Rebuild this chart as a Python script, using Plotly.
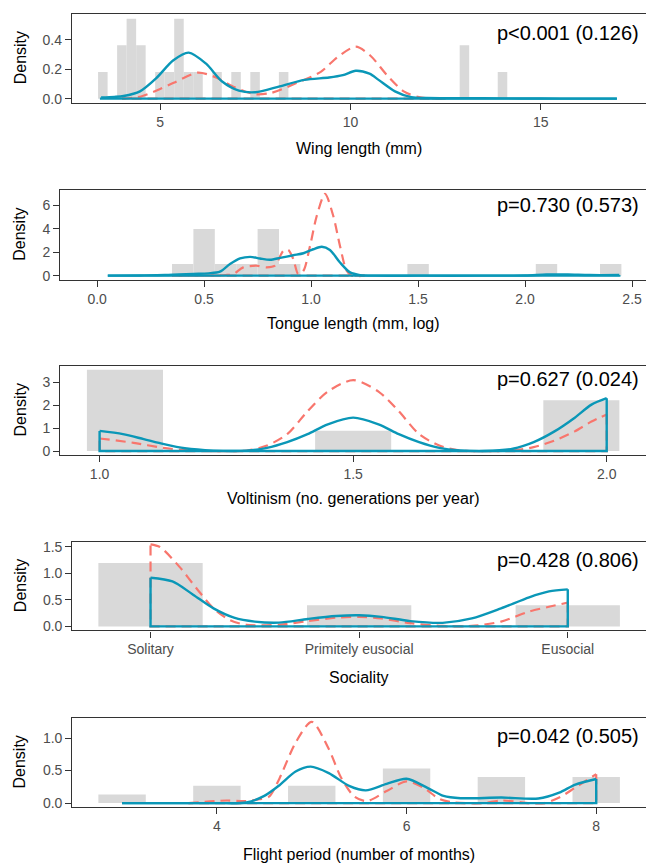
import plotly.graph_objects as go

W, H = 646, 868
BLUE = "#0A97B7"
RED = "#F8766D"
GRAY = "#D9D9D9"
FONT = "Liberation Sans, Arial, sans-serif"

# ---------------- data ----------------
# Panel 1: wing length
wing_hist_x = [3.495, 3.995, 4.245, 4.495, 4.995, 5.245, 5.495, 5.745, 5.995, 6.495, 6.995, 7.495, 8.245, 12.995, 13.995]
wing_hist_y = [0.182, 0.364, 0.545, 0.364, 0.182, 0.182, 0.545, 0.182, 0.182, 0.182, 0.182, 0.182, 0.182, 0.364, 0.182]
wing_hist_w = 0.25
wing_blue_x = [3.45, 3.8, 4.04, 4.47, 4.9, 5.34, 5.75, 6.2, 6.63, 7.07, 7.5, 8.14, 8.79, 9.44, 9.8, 10.14, 10.5, 10.74, 11.17, 11.6, 12.0, 13.0, 14.0, 15.0, 16.0, 17.0]
wing_blue_y = [0.008, 0.012, 0.018, 0.05, 0.14, 0.26, 0.314, 0.24, 0.117, 0.055, 0.044, 0.084, 0.128, 0.144, 0.16, 0.19, 0.17, 0.128, 0.05, 0.01, 0.004, 0.003, 0.002, 0.001, 0.0, 0.0]
wing_red_x = [4.0, 4.5, 5.0, 5.34, 5.98, 6.42, 6.96, 7.5, 7.93, 8.58, 9.22, 9.66, 10.14, 10.52, 10.96, 11.4, 11.8, 12.5]
wing_red_y = [0.0, 0.015, 0.066, 0.106, 0.177, 0.15, 0.077, 0.03, 0.04, 0.106, 0.183, 0.283, 0.354, 0.294, 0.16, 0.05, 0.01, 0.0]

# Panel 2: tongue length
tongue_hist_x = [0.4, 0.5, 0.6, 0.7, 0.8, 0.9, 1.5, 2.1, 2.4]
tongue_hist_y = [1, 4, 1, 1, 4, 1, 1, 1, 1]
tongue_hist_w = 0.1
tongue_blue_x = [0.05, 0.2, 0.317, 0.45, 0.52, 0.574, 0.621, 0.668, 0.715, 0.761, 0.808, 0.855, 0.917, 0.964, 1.01, 1.05, 1.088, 1.135, 1.182, 1.229, 1.3, 1.5, 1.8, 2.0, 2.1, 2.2, 2.3, 2.44]
tongue_blue_y = [0.0, 0.02, 0.05, 0.15, 0.2, 0.34, 0.99, 1.47, 1.61, 1.47, 1.36, 1.52, 1.75, 1.92, 2.26, 2.48, 2.2, 1.13, 0.28, 0.05, 0.0, 0.0, 0.0, 0.02, 0.1, 0.1, 0.05, 0.05]
tongue_red_x = [0.35, 0.55, 0.6, 0.637, 0.683, 0.746, 0.793, 0.831, 0.87, 0.893, 0.917, 0.94, 0.964, 0.995, 1.026, 1.065, 1.104, 1.135, 1.166, 1.19, 1.25]
tongue_red_y = [0.0, 0.01, 0.05, 0.14, 0.71, 0.85, 0.71, 0.85, 2.12, 2.2, 1.41, 0.14, 0.42, 2.54, 5.08, 7.0, 5.08, 2.54, 0.42, 0.0, 0.0]

# Panel 3: voltinism
volt_hist_x = [1.05, 1.5, 1.95]
volt_hist_y = [3.556, 0.889, 2.222]
volt_hist_w = 0.15
volt_blue_x = [1.0, 1.046, 1.087, 1.127, 1.168, 1.224, 1.29, 1.33, 1.37, 1.41, 1.45, 1.5, 1.55, 1.59, 1.63, 1.67, 1.71, 1.76, 1.815, 1.856, 1.897, 1.937, 1.97, 2.0]
volt_blue_y = [0.88, 0.74, 0.52, 0.3, 0.12, 0.02, 0.02, 0.14, 0.39, 0.74, 1.17, 1.46, 1.17, 0.74, 0.39, 0.14, 0.03, 0.0, 0.1, 0.39, 0.86, 1.46, 2.03, 2.31]
volt_red_x = [1.0, 1.067, 1.125, 1.17, 1.22, 1.29, 1.33, 1.37, 1.41, 1.45, 1.5, 1.55, 1.59, 1.63, 1.67, 1.71, 1.78, 1.815, 1.856, 1.897, 1.937, 1.97, 2.0]
volt_red_y = [0.55, 0.36, 0.14, 0.04, 0.0, 0.02, 0.24, 0.74, 1.74, 2.6, 3.1, 2.6, 1.74, 0.74, 0.24, 0.03, 0.0, 0.03, 0.17, 0.46, 0.86, 1.29, 1.6]

# Panel 4: sociality
soc_labels = ["Solitary", "Primitely eusocial", "Eusocial"]
soc_hist_x = [1, 2, 3]
soc_hist_y = [1.2, 0.4, 0.4]
soc_hist_w = 0.5
soc_blue_x = [1.0, 1.105, 1.204, 1.302, 1.4, 1.5, 1.616, 1.754, 1.89, 2.0, 2.107, 2.245, 2.4, 2.54, 2.68, 2.815, 2.91, 3.0]
soc_blue_y = [0.92, 0.85, 0.6, 0.34, 0.165, 0.09, 0.07, 0.14, 0.196, 0.21, 0.18, 0.1, 0.067, 0.15, 0.34, 0.55, 0.66, 0.70]
soc_red_x = [1.0, 1.045, 1.14, 1.22, 1.302, 1.38, 1.46, 1.616, 1.754, 1.89, 2.0, 2.107, 2.245, 2.4, 2.54, 2.68, 2.815, 2.91, 3.0]
soc_red_y = [1.55, 1.5, 1.12, 0.72, 0.34, 0.12, 0.03, 0.03, 0.1, 0.165, 0.18, 0.15, 0.06, 0.01, 0.01, 0.09, 0.28, 0.37, 0.45]

# Panel 5: flight period
flight_hist_x = [3, 4, 5, 6, 7, 8]
flight_hist_y = [0.133, 0.267, 0.267, 0.533, 0.4, 0.4]
flight_hist_w = 0.5
flight_blue_x = [3.0, 4.0, 4.31, 4.5, 4.66, 4.83, 4.99, 5.18, 5.4, 5.57, 5.79, 6.0, 6.22, 6.39, 6.57, 7.0, 7.39, 7.61, 7.78, 8.0]
flight_blue_y = [0.0, 0.0, 0.01, 0.11, 0.275, 0.485, 0.56, 0.46, 0.26, 0.195, 0.295, 0.375, 0.235, 0.11, 0.075, 0.085, 0.07, 0.16, 0.285, 0.37]
flight_red_x = [3.7, 4.1, 4.3, 4.45, 4.55, 4.66, 4.83, 5.0, 5.18, 5.31, 5.45, 5.58, 5.79, 6.0, 6.18, 6.35, 6.5, 6.8, 7.0, 7.3, 7.45, 7.61, 7.78, 8.0]
flight_red_y = [0.0, 0.04, 0.03, 0.06, 0.1, 0.38, 0.93, 1.25, 0.83, 0.39, 0.1, 0.03, 0.185, 0.335, 0.235, 0.06, 0.01, 0.0, 0.04, 0.0, 0.0, 0.085, 0.24, 0.445]

panels = [
    dict(hx=wing_hist_x, hy=wing_hist_y, hw=wing_hist_w, bx=wing_blue_x, by=wing_blue_y, rx=wing_red_x, ry=wing_red_y,
         xr=[2.685, 17.765], yr=[-0.0275, 0.5775], xt=[5, 10, 15], xtt=["5", "10", "15"], yt=[0, 0.2, 0.4], ytt=["0.0", "0.2", "0.4"],
         px=(72, 11, 100.5), title="Wing length (mm)", ty=147, ptxt="p<0.001 (0.126)", py=30),
    dict(hx=tongue_hist_x, hy=tongue_hist_y, hw=tongue_hist_w, bx=tongue_blue_x, by=tongue_blue_y, rx=tongue_red_x, ry=tongue_red_y,
         xr=[-0.172, 2.565], yr=[-0.35, 7.35], xt=[0, 0.5, 1, 1.5, 2, 2.5], xtt=["0.0", "0.5", "1.0", "1.5", "2.0", "2.5"], yt=[0, 2, 4, 6], ytt=["0", "2", "4", "6"],
         px=(60.3, 188.3, 279), title="Tongue length (mm, log)", ty=323.5, ptxt="p=0.730 (0.573)", py=203.5),
    dict(hx=volt_hist_x, hy=volt_hist_y, hw=volt_hist_w, bx=volt_blue_x, by=volt_blue_y, rx=volt_red_x, ry=volt_red_y,
         xr=[0.9225, 2.0775], yr=[-0.178, 3.73], xt=[1, 1.5, 2], xtt=["1.0", "1.5", "2.0"], yt=[0, 1, 2, 3], ytt=["0", "1", "2", "3"],
         px=(60.3, 365.7, 455.8), title="Voltinism (no. generations per year)", ty=500, ptxt="p=0.627 (0.024)", py=379.5),
    dict(hx=soc_hist_x, hy=soc_hist_y, hw=soc_hist_w, bx=soc_blue_x, by=soc_blue_y, rx=soc_red_x, ry=soc_red_y,
         xr=[0.625, 3.375], yr=[-0.076, 1.596], xt=[1, 2, 3], xtt=soc_labels, yt=[0, 0.5, 1.0, 1.5], ytt=["0.0", "0.5", "1.0", "1.5"],
         px=(72.3, 543.3, 632.5), title="Sociality", ty=680, ptxt="p=0.428 (0.806)", py=561.5),
    dict(hx=flight_hist_x, hy=flight_hist_y, hw=flight_hist_w, bx=flight_blue_x, by=flight_blue_y, rx=flight_red_x, ry=flight_red_y,
         xr=[2.475, 8.525], yr=[-0.0625, 1.31], xt=[4, 6, 8], xtt=["4", "6", "8"], yt=[0, 0.5, 1.0], ytt=["0.0", "0.5", "1.0"],
         px=(72.3, 720.7, 810.7), title="Flight period (number of months)", ty=858.5, ptxt="p=0.042 (0.505)", py=739),
]

fig = go.Figure()
annotations = []
layout_axes = {}

for i, p in enumerate(panels, start=1):
    xa = "x" if i == 1 else f"x{i}"
    ya = "y" if i == 1 else f"y{i}"
    # histogram bars
    fig.add_trace(go.Bar(x=p["hx"], y=p["hy"], width=p["hw"], marker=dict(color=GRAY, line=dict(width=0)),
                         xaxis=xa, yaxis=ya, showlegend=False, hoverinfo="skip"))
    # density outlines (red dashed first, then blue solid)
    for cx, cy, col, dash, lw in [(p["rx"], p["ry"], RED, "10px,6px", 2.2), (p["bx"], p["by"], BLUE, "solid", 2.4)]:
        close_x = [cx[-1], cx[-1], cx[0], cx[0]]
        close_y = [cy[-1], 0, 0, cy[0]]
        fig.add_trace(go.Scatter(x=close_x, y=close_y, mode="lines", line=dict(color=col, width=lw, dash=dash),
                                 xaxis=xa, yaxis=ya, showlegend=False, hoverinfo="skip"))
        fig.add_trace(go.Scatter(x=cx, y=cy, mode="lines", line=dict(color=col, width=lw, dash=dash, shape="spline", smoothing=0.8),
                                 xaxis=xa, yaxis=ya, showlegend=False, hoverinfo="skip"))
    left, top, bottom = p["px"]
    xdom = [left / W, 1.0]
    ydom = [1 - bottom / H, 1 - top / H]
    axcommon = dict(showline=True, linecolor="#333333", linewidth=1.3, ticks="outside", ticklen=6, tickwidth=1.3,
                    tickcolor="#333333", showgrid=False, zeroline=False,
                    tickfont=dict(family=FONT, size=14, color="#4D4D4D"), fixedrange=True)
    layout_axes["xaxis" if i == 1 else f"xaxis{i}"] = dict(
        domain=xdom, range=p["xr"], anchor=ya, tickvals=p["xt"], ticktext=p["xtt"], mirror=True, **axcommon)
    layout_axes["yaxis" if i == 1 else f"yaxis{i}"] = dict(
        domain=ydom, range=p["yr"], anchor=xa, tickvals=p["yt"], ticktext=p["ytt"], mirror=False, **axcommon)
    # x-axis title
    annotations.append(dict(x=(left + W) / 2 / W, y=1 - p["ty"] / H, xref="paper", yref="paper", text=p["title"],
                            showarrow=False, xanchor="center", yanchor="middle",
                            font=dict(family=FONT, size=16, color="black")))
    # y-axis title
    annotations.append(dict(x=20 / W, y=1 - (top + bottom) / 2 / H, xref="paper", yref="paper", text="Density",
                            showarrow=False, textangle=-90, xanchor="center", yanchor="middle",
                            font=dict(family=FONT, size=16, color="black")))
    # p-value
    annotations.append(dict(x=641 / W, y=1 - p["py"] / H, xref="paper", yref="paper", text=p["ptxt"],
                            showarrow=False, xanchor="right", yanchor="middle",
                            font=dict(family=FONT, size=20, color="black")))

fig.update_layout(width=W, height=H, margin=dict(l=0, r=0, t=0, b=0), paper_bgcolor="white", plot_bgcolor="white",
                  barmode="overlay", annotations=annotations, **layout_axes)
fig.write_html("out.html", config={"displayModeBar": False})
